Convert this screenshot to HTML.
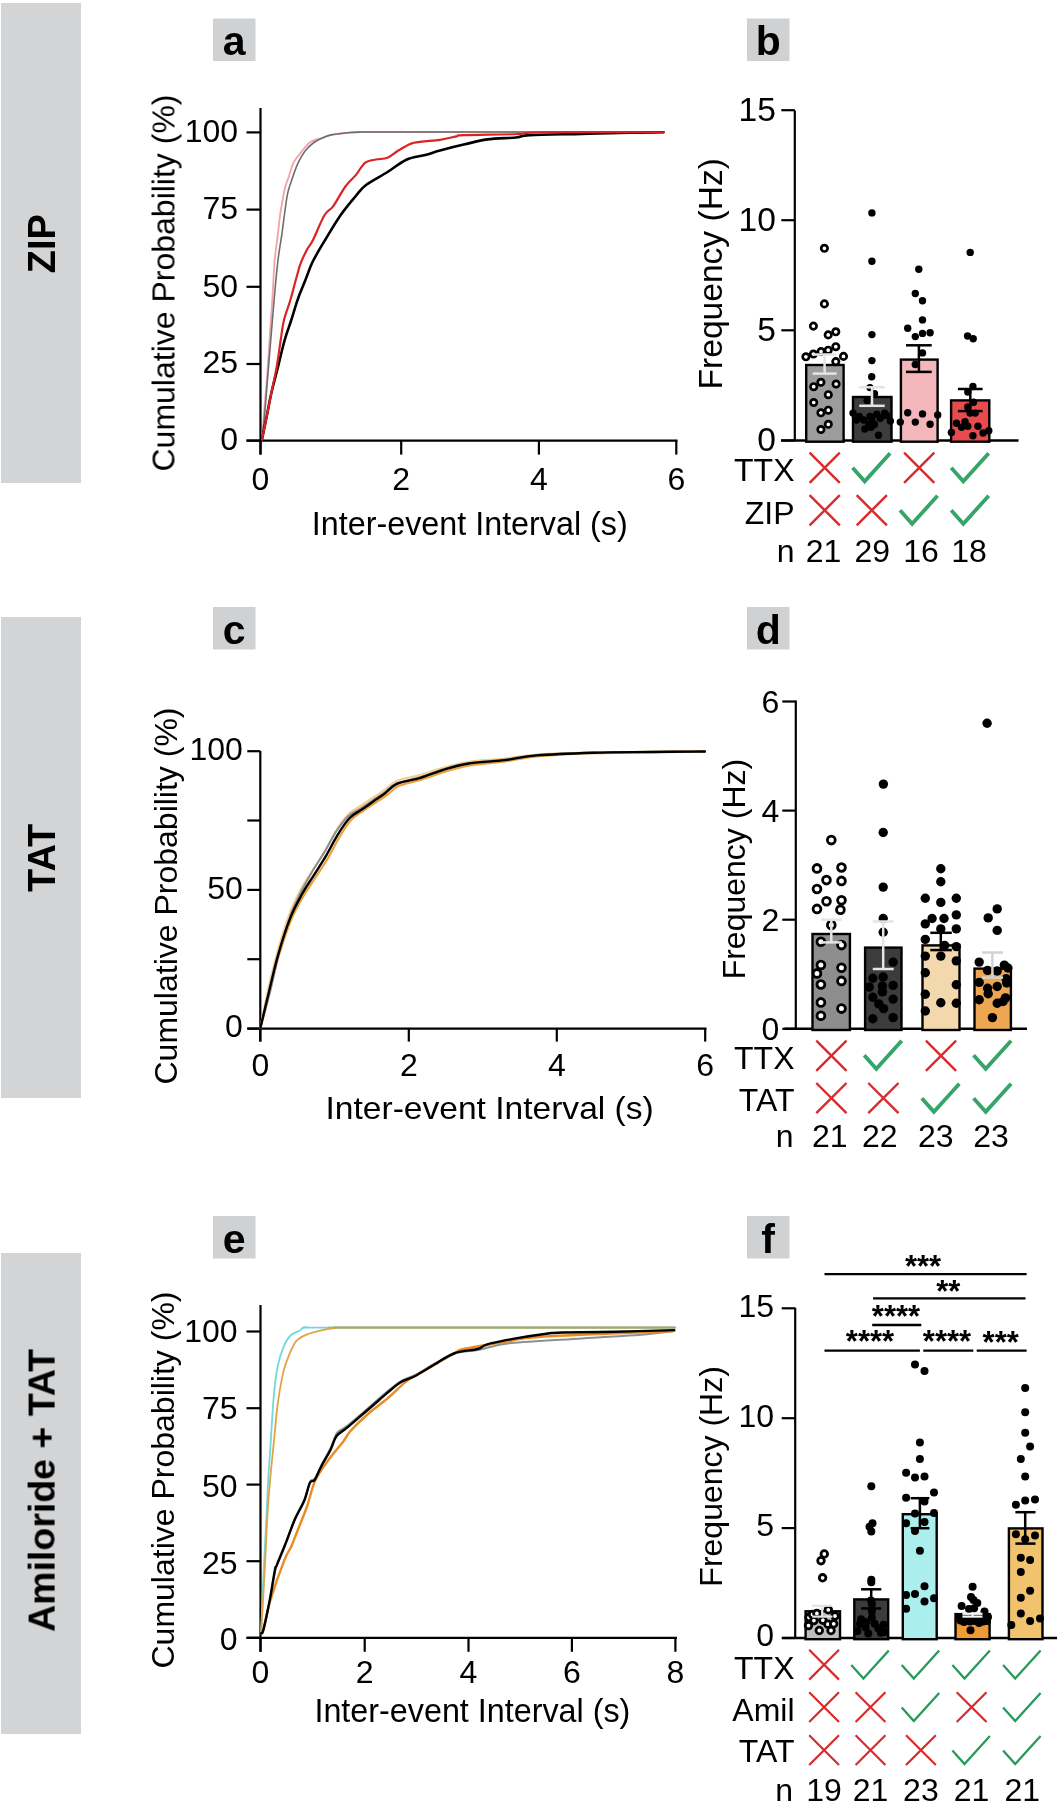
<!DOCTYPE html>
<html><head><meta charset="utf-8"><style>
html,body{margin:0;padding:0;background:#fff;}
svg{display:block;will-change:transform;}
text{font-family:"Liberation Sans", sans-serif;}
</style></head><body>
<svg width="1057" height="1801" viewBox="0 0 1057 1801">
<rect x="1.0" y="3.0" width="80.0" height="480.0" fill="#d3d4d6"/>
<text transform="translate(54.6,243.6) rotate(-90)" font-size="38" font-weight="700" text-anchor="middle" fill="#000" >ZIP</text>
<rect x="1.0" y="617.0" width="80.0" height="481.0" fill="#d3d4d6"/>
<text transform="translate(54.6,857.8) rotate(-90)" font-size="38" font-weight="700" text-anchor="middle" fill="#000" >TAT</text>
<rect x="1.0" y="1253.0" width="80.0" height="481.0" fill="#d3d4d6"/>
<text transform="translate(54.6,1490.4) rotate(-90)" font-size="37.5" font-weight="700" text-anchor="middle" fill="#000" >Amiloride + TAT</text>
<rect x="213.0" y="18.5" width="42.5" height="42.5" fill="#d0d1d3"/>
<text x="234.2" y="55.0" font-size="41" font-weight="700" text-anchor="middle" fill="#000" >a</text>
<rect x="747.0" y="18.5" width="42.5" height="42.5" fill="#d0d1d3"/>
<text x="768.2" y="55.0" font-size="41" font-weight="700" text-anchor="middle" fill="#000" >b</text>
<rect x="213.0" y="607.0" width="42.5" height="42.5" fill="#d0d1d3"/>
<text x="234.2" y="643.5" font-size="41" font-weight="700" text-anchor="middle" fill="#000" >c</text>
<rect x="747.0" y="607.0" width="42.5" height="42.5" fill="#d0d1d3"/>
<text x="768.2" y="643.5" font-size="41" font-weight="700" text-anchor="middle" fill="#000" >d</text>
<rect x="213.0" y="1216.0" width="42.5" height="42.5" fill="#d0d1d3"/>
<text x="234.2" y="1252.5" font-size="41" font-weight="700" text-anchor="middle" fill="#000" >e</text>
<rect x="747.0" y="1216.0" width="42.5" height="42.5" fill="#d0d1d3"/>
<text x="768.2" y="1252.5" font-size="41" font-weight="700" text-anchor="middle" fill="#000" >f</text>
<line x1="260.5" y1="108.0" x2="260.5" y2="454.6" stroke="#000" stroke-width="2.2" stroke-linecap="butt"/>
<line x1="246.5" y1="440.6" x2="677.5" y2="440.6" stroke="#000" stroke-width="2.2" stroke-linecap="butt"/>
<line x1="246.5" y1="132.4" x2="260.5" y2="132.4" stroke="#000" stroke-width="2.2" stroke-linecap="butt"/>
<text x="238.1" y="142.3" font-size="32" font-weight="400" text-anchor="end" fill="#000" >100</text>
<line x1="246.5" y1="209.6" x2="260.5" y2="209.6" stroke="#000" stroke-width="2.2" stroke-linecap="butt"/>
<text x="238.1" y="219.4" font-size="32" font-weight="400" text-anchor="end" fill="#000" >75</text>
<line x1="246.5" y1="286.8" x2="260.5" y2="286.8" stroke="#000" stroke-width="2.2" stroke-linecap="butt"/>
<text x="238.1" y="296.7" font-size="32" font-weight="400" text-anchor="end" fill="#000" >50</text>
<line x1="246.5" y1="364.0" x2="260.5" y2="364.0" stroke="#000" stroke-width="2.2" stroke-linecap="butt"/>
<text x="238.1" y="373.2" font-size="32" font-weight="400" text-anchor="end" fill="#000" >25</text>
<line x1="246.5" y1="440.6" x2="260.5" y2="440.6" stroke="#000" stroke-width="2.2" stroke-linecap="butt"/>
<text x="238.1" y="450.4" font-size="32" font-weight="400" text-anchor="end" fill="#000" >0</text>
<line x1="401.2" y1="440.6" x2="401.2" y2="454.6" stroke="#000" stroke-width="2.2" stroke-linecap="butt"/>
<text x="401.2" y="489.5" font-size="32" font-weight="400" text-anchor="middle" fill="#000" >2</text>
<line x1="538.9" y1="440.6" x2="538.9" y2="454.6" stroke="#000" stroke-width="2.2" stroke-linecap="butt"/>
<text x="538.9" y="489.5" font-size="32" font-weight="400" text-anchor="middle" fill="#000" >4</text>
<line x1="676.3" y1="440.6" x2="676.3" y2="454.6" stroke="#000" stroke-width="2.2" stroke-linecap="butt"/>
<text x="676.3" y="489.5" font-size="32" font-weight="400" text-anchor="middle" fill="#000" >6</text>
<line x1="260.5" y1="440.6" x2="260.5" y2="454.6" stroke="#000" stroke-width="2.2" stroke-linecap="butt"/>
<text x="260.5" y="489.5" font-size="32" font-weight="400" text-anchor="middle" fill="#000" >0</text>
<text transform="translate(174.5,283.0) rotate(-90)" font-size="32" font-weight="400" text-anchor="middle" fill="#000" >Cumulative Probability (%)</text>
<text x="469.8" y="534.5" font-size="32.3" font-weight="400" text-anchor="middle" fill="#000" >Inter-event Interval (s)</text>
<path d="M262.0,439.5 C262.2,437.1 262.8,430.5 263.2,425.0 C263.6,419.5 263.8,415.3 264.5,406.7 C265.2,398.1 266.4,385.5 267.3,373.3 C268.2,361.1 269.1,346.6 270.0,333.3 C270.9,320.0 271.9,305.5 272.7,293.3 C273.5,281.1 273.8,270.0 274.7,260.0 C275.6,250.0 277.1,240.8 278.0,233.3 C278.9,225.8 279.3,220.6 280.1,215.0 C280.9,209.4 281.7,204.8 282.6,200.0 C283.5,195.2 284.3,190.3 285.3,186.5 C286.3,182.7 287.4,180.9 288.7,177.0 C290.0,173.1 291.3,166.9 293.4,162.8 C295.4,158.7 298.2,155.9 301.0,152.4 C303.8,148.9 306.9,144.4 310.4,142.0 C313.9,139.6 318.3,139.2 321.8,138.0 C325.3,136.8 327.3,135.7 331.2,134.9 C335.1,134.1 340.7,133.5 345.4,133.0 C350.1,132.5 350.5,132.3 359.6,132.1 C368.7,131.9 349.4,132.0 400.0,132.0 C450.6,132.0 619.6,132.0 663.5,132.0" fill="none" stroke="#f3a3ab" stroke-width="1.8" stroke-linejoin="round" stroke-linecap="round" opacity="1"/>
<path d="M262.0,439.5 C262.3,437.1 263.1,430.5 263.6,425.0 C264.2,419.5 264.6,415.3 265.3,406.7 C266.0,398.1 267.0,385.5 268.0,373.3 C269.0,361.1 270.2,346.6 271.3,333.3 C272.4,320.0 273.6,305.5 274.7,293.3 C275.8,281.1 276.8,270.0 278.0,260.0 C279.2,250.0 280.9,240.8 282.0,233.3 C283.1,225.8 283.4,221.7 284.4,215.0 C285.3,208.3 286.4,199.3 287.7,193.1 C289.0,186.9 290.7,183.1 292.4,178.0 C294.1,172.9 296.1,167.2 298.1,162.8 C300.2,158.4 302.2,154.8 304.7,151.5 C307.2,148.2 310.3,145.2 313.2,143.0 C316.1,140.8 318.8,139.5 321.8,138.2 C324.8,136.8 327.3,135.8 331.2,134.9 C335.1,134.0 340.7,133.5 345.4,133.0 C350.1,132.5 350.5,132.3 359.6,132.1 C368.7,131.9 349.4,132.0 400.0,132.0 C450.6,132.0 619.6,132.0 663.5,132.0" fill="none" stroke="#6e6e6e" stroke-width="1.6" stroke-linejoin="round" stroke-linecap="round" opacity="1"/>
<path d="M262.0,439.5 C262.7,436.2 264.4,427.7 266.0,420.0 C267.6,412.3 269.3,402.2 271.3,393.3 C273.3,384.4 275.8,375.6 278.0,366.7 C280.2,357.8 282.5,347.8 284.7,340.0 C286.9,332.2 289.1,326.9 291.3,320.0 C293.5,313.1 295.6,305.3 298.0,298.7 C300.4,292.1 303.1,285.9 305.4,280.1 C307.6,274.4 309.4,269.0 311.5,264.2 C313.6,259.4 316.0,255.4 318.3,251.4 C320.6,247.4 321.4,246.1 325.1,240.0 C328.8,233.9 335.6,222.3 340.7,215.0 C345.8,207.7 351.6,201.0 355.8,196.0 C360.0,191.0 360.7,189.0 366.0,185.0 C371.3,181.0 380.8,176.2 387.5,172.0 C394.2,167.8 400.1,162.5 406.4,159.7 C412.7,156.9 419.7,156.5 425.3,155.0 C430.9,153.5 433.6,152.2 440.0,150.5 C446.4,148.8 455.8,146.4 463.7,144.6 C471.6,142.8 478.6,140.6 487.3,139.4 C496.0,138.2 508.6,138.2 515.7,137.5 C522.8,136.8 518.9,135.7 529.9,135.1 C540.9,134.5 565.3,134.3 581.9,133.9 C598.5,133.5 615.6,133.0 629.2,132.7 C642.8,132.4 657.8,132.4 663.5,132.3" fill="none" stroke="#000" stroke-width="2.6" stroke-linejoin="round" stroke-linecap="round" opacity="1"/>
<path d="M262.0,439.5 C262.7,436.2 264.4,427.7 266.0,420.0 C267.6,412.3 269.5,402.2 271.3,393.3 C273.1,384.4 275.1,375.6 276.7,366.7 C278.3,357.8 279.5,347.8 280.7,340.0 C281.9,332.2 282.4,326.4 284.0,320.0 C285.6,313.6 288.3,306.9 290.0,301.3 C291.7,295.8 292.7,291.6 294.0,286.7 C295.3,281.8 296.9,276.0 298.0,272.0 C299.1,268.0 299.4,266.4 300.9,262.7 C302.4,259.0 304.9,253.6 306.9,249.8 C308.9,246.0 310.1,245.8 313.0,240.0 C315.9,234.2 321.2,220.6 324.6,215.0 C328.0,209.4 329.6,211.2 333.1,206.4 C336.6,201.7 341.6,191.7 345.4,186.5 C349.2,181.3 352.5,179.0 355.8,175.1 C359.1,171.2 361.6,165.4 365.0,162.8 C368.4,160.2 372.2,160.3 376.0,159.5 C379.8,158.7 383.7,159.3 387.5,157.8 C391.3,156.3 394.4,152.8 398.8,150.3 C403.2,147.8 407.0,144.4 413.9,142.7 C420.8,140.9 432.9,140.9 440.0,139.8 C447.1,138.7 452.7,137.1 456.6,136.3 C460.6,135.5 453.5,135.5 463.7,135.1 C473.9,134.7 505.0,134.5 518.0,134.0 C531.0,133.5 517.5,132.6 541.7,132.3 C566.0,132.0 643.2,132.3 663.5,132.3" fill="none" stroke="#dc2323" stroke-width="2.2" stroke-linejoin="round" stroke-linecap="round" opacity="1"/>
<line x1="260.3" y1="751.0" x2="260.3" y2="1041.6" stroke="#000" stroke-width="2.2" stroke-linecap="butt"/>
<line x1="247.3" y1="1028.6" x2="706.5" y2="1028.6" stroke="#000" stroke-width="2.2" stroke-linecap="butt"/>
<line x1="247.3" y1="751.2" x2="260.3" y2="751.2" stroke="#000" stroke-width="2.2" stroke-linecap="butt"/>
<text x="242.9" y="760.0" font-size="32" font-weight="400" text-anchor="end" fill="#000" >100</text>
<line x1="247.3" y1="820.5" x2="260.3" y2="820.5" stroke="#000" stroke-width="2.2" stroke-linecap="butt"/>
<line x1="247.3" y1="889.9" x2="260.3" y2="889.9" stroke="#000" stroke-width="2.2" stroke-linecap="butt"/>
<text x="242.9" y="898.7" font-size="32" font-weight="400" text-anchor="end" fill="#000" >50</text>
<line x1="247.3" y1="959.2" x2="260.3" y2="959.2" stroke="#000" stroke-width="2.2" stroke-linecap="butt"/>
<line x1="247.3" y1="1028.6" x2="260.3" y2="1028.6" stroke="#000" stroke-width="2.2" stroke-linecap="butt"/>
<text x="242.9" y="1037.4" font-size="32" font-weight="400" text-anchor="end" fill="#000" >0</text>
<line x1="408.8" y1="1028.6" x2="408.8" y2="1041.6" stroke="#000" stroke-width="2.2" stroke-linecap="butt"/>
<text x="408.8" y="1075.5" font-size="32" font-weight="400" text-anchor="middle" fill="#000" >2</text>
<line x1="556.8" y1="1028.6" x2="556.8" y2="1041.6" stroke="#000" stroke-width="2.2" stroke-linecap="butt"/>
<text x="556.8" y="1075.5" font-size="32" font-weight="400" text-anchor="middle" fill="#000" >4</text>
<line x1="705.2" y1="1028.6" x2="705.2" y2="1041.6" stroke="#000" stroke-width="2.2" stroke-linecap="butt"/>
<text x="705.2" y="1075.5" font-size="32" font-weight="400" text-anchor="middle" fill="#000" >6</text>
<line x1="260.3" y1="1028.6" x2="260.3" y2="1041.6" stroke="#000" stroke-width="2.2" stroke-linecap="butt"/>
<text x="260.3" y="1075.5" font-size="32" font-weight="400" text-anchor="middle" fill="#000" >0</text>
<text transform="translate(176.5,896.0) rotate(-90)" font-size="32" font-weight="400" text-anchor="middle" fill="#000" >Cumulative Probability (%)</text>
<text x="0.0" y="0.0" font-size="32" font-weight="400" text-anchor="middle" fill="#000" transform="translate(489.6,1119.3) scale(1.049,1)">Inter-event Interval (s)</text>
<path d="M260.5,1027.5 C261.8,1020.9 265.6,1000.9 268.5,988.0 C271.4,975.1 274.5,962.3 278.0,950.0 C281.5,937.7 285.7,924.2 289.5,914.0 C293.3,903.8 297.1,896.3 301.0,889.0 C304.9,881.7 309.0,876.3 313.0,870.0 C317.0,863.7 321.1,857.7 325.0,851.0 C328.9,844.3 332.6,836.2 336.5,830.0 C340.4,823.8 344.5,818.0 348.5,814.0 C352.5,810.0 356.5,808.7 360.5,806.0 C364.5,803.3 368.5,800.7 372.5,798.0 C376.5,795.3 380.5,792.8 384.5,790.0 C388.5,787.2 390.6,783.5 396.5,781.0 C402.4,778.5 412.1,777.2 420.0,775.0 C427.9,772.8 436.0,769.7 444.0,767.5 C452.0,765.3 457.8,763.5 468.0,762.0 C478.2,760.5 493.5,759.8 505.0,758.5 C516.5,757.2 522.0,755.5 536.8,754.5 C551.5,753.5 565.5,753.0 593.5,752.5 C621.5,752.0 686.2,751.5 704.8,751.3" fill="none" stroke="#f3cf93" stroke-width="2.2" stroke-linejoin="round" stroke-linecap="round" opacity="1"/>
<path d="M260.5,1027.5 C262.1,1021.2 266.8,1002.3 270.0,990.0 C273.2,977.7 275.9,965.3 279.5,953.5 C283.1,941.7 287.5,928.6 291.5,919.0 C295.5,909.4 299.5,902.9 303.5,896.0 C307.5,889.1 311.5,883.7 315.5,877.5 C319.5,871.3 323.5,865.8 327.5,859.0 C331.5,852.2 335.6,843.5 339.5,837.0 C343.4,830.5 347.1,824.3 351.0,820.0 C354.9,815.7 359.0,813.8 363.0,811.0 C367.0,808.2 371.0,805.7 375.0,803.0 C379.0,800.3 383.1,797.8 387.0,795.0 C390.9,792.2 392.7,788.6 398.5,786.0 C404.3,783.4 414.1,781.9 422.0,779.5 C429.9,777.1 438.0,773.8 446.0,771.5 C454.0,769.2 460.2,767.2 470.0,765.5 C479.8,763.8 493.9,763.0 505.0,761.5 C516.1,760.0 522.0,757.9 536.8,756.5 C551.5,755.1 565.5,754.0 593.5,753.2 C621.5,752.4 686.2,751.8 704.8,751.5" fill="none" stroke="#eea23c" stroke-width="2.2" stroke-linejoin="round" stroke-linecap="round" opacity="1"/>
<path d="M260.5,1027.5 C262.1,1021.8 266.8,1005.1 269.8,993.0 C272.8,980.9 275.2,967.5 278.5,955.0 C281.8,942.5 285.8,928.5 289.5,918.0 C293.2,907.5 297.2,899.8 301.0,892.0 C304.8,884.2 308.6,877.7 312.5,871.0 C316.4,864.3 320.5,858.7 324.5,852.0 C328.5,845.3 332.5,837.0 336.5,831.0 C340.5,825.0 344.5,819.8 348.5,816.0 C352.5,812.2 356.5,811.1 360.5,808.5 C364.5,805.9 368.5,803.2 372.5,800.5 C376.5,797.8 380.5,795.3 384.5,792.5 C388.5,789.7 390.5,786.1 396.5,783.5 C402.5,780.9 412.7,779.4 420.6,777.0 C428.6,774.6 436.3,771.3 444.2,769.0 C452.1,766.7 457.8,764.6 467.9,763.0 C478.0,761.4 493.5,760.8 505.0,759.5 C516.5,758.2 522.0,756.2 536.8,755.0 C551.5,753.8 565.5,753.1 593.5,752.5 C621.5,751.9 686.2,751.7 704.8,751.5" fill="none" stroke="#8e8e8e" stroke-width="2.0" stroke-linejoin="round" stroke-linecap="round" opacity="1"/>
<path d="M260.5,1027.5 C261.9,1021.4 266.2,1003.1 269.2,990.7 C272.2,978.3 275.1,965.1 278.7,952.9 C282.2,940.7 286.6,927.3 290.5,917.4 C294.4,907.5 298.4,900.8 302.3,893.7 C306.2,886.6 310.2,881.1 314.1,874.8 C318.1,868.5 322.1,862.6 326.0,855.9 C329.9,849.2 333.9,840.9 337.8,834.6 C341.7,828.3 345.7,822.1 349.6,818.0 C353.5,813.9 357.4,812.5 361.4,809.8 C365.3,807.0 369.4,804.3 373.3,801.5 C377.2,798.7 381.2,796.2 385.1,793.2 C389.0,790.2 391.0,786.4 396.9,783.8 C402.8,781.2 412.7,780.2 420.6,777.8 C428.5,775.4 436.3,772.0 444.2,769.6 C452.1,767.2 457.8,765.3 467.9,763.7 C478.0,762.1 493.5,761.5 505.0,760.1 C516.5,758.7 522.0,756.6 536.8,755.4 C551.5,754.2 574.6,753.3 593.5,752.7 C612.4,752.1 631.5,752.2 650.0,752.0 C668.5,751.8 695.7,751.6 704.8,751.5" fill="none" stroke="#000" stroke-width="2.4" stroke-linejoin="round" stroke-linecap="round" opacity="1"/>
<line x1="260.5" y1="1305.0" x2="260.5" y2="1651.8" stroke="#000" stroke-width="2.2" stroke-linecap="butt"/>
<line x1="246.5" y1="1637.8" x2="677.0" y2="1637.8" stroke="#000" stroke-width="2.2" stroke-linecap="butt"/>
<line x1="246.5" y1="1331.5" x2="260.5" y2="1331.5" stroke="#000" stroke-width="2.2" stroke-linecap="butt"/>
<text x="237.6" y="1341.6" font-size="32" font-weight="400" text-anchor="end" fill="#000" >100</text>
<line x1="246.5" y1="1408.2" x2="260.5" y2="1408.2" stroke="#000" stroke-width="2.2" stroke-linecap="butt"/>
<text x="237.6" y="1418.8" font-size="32" font-weight="400" text-anchor="end" fill="#000" >75</text>
<line x1="246.5" y1="1484.6" x2="260.5" y2="1484.6" stroke="#000" stroke-width="2.2" stroke-linecap="butt"/>
<text x="237.6" y="1496.6" font-size="32" font-weight="400" text-anchor="end" fill="#000" >50</text>
<line x1="246.5" y1="1561.2" x2="260.5" y2="1561.2" stroke="#000" stroke-width="2.2" stroke-linecap="butt"/>
<text x="237.6" y="1573.8" font-size="32" font-weight="400" text-anchor="end" fill="#000" >25</text>
<line x1="246.5" y1="1637.8" x2="260.5" y2="1637.8" stroke="#000" stroke-width="2.2" stroke-linecap="butt"/>
<text x="237.6" y="1650.4" font-size="32" font-weight="400" text-anchor="end" fill="#000" >0</text>
<line x1="364.7" y1="1637.8" x2="364.7" y2="1651.8" stroke="#000" stroke-width="2.2" stroke-linecap="butt"/>
<text x="364.7" y="1682.5" font-size="32" font-weight="400" text-anchor="middle" fill="#000" >2</text>
<line x1="468.5" y1="1637.8" x2="468.5" y2="1651.8" stroke="#000" stroke-width="2.2" stroke-linecap="butt"/>
<text x="468.5" y="1682.5" font-size="32" font-weight="400" text-anchor="middle" fill="#000" >4</text>
<line x1="571.9" y1="1637.8" x2="571.9" y2="1651.8" stroke="#000" stroke-width="2.2" stroke-linecap="butt"/>
<text x="571.9" y="1682.5" font-size="32" font-weight="400" text-anchor="middle" fill="#000" >6</text>
<line x1="675.4" y1="1637.8" x2="675.4" y2="1651.8" stroke="#000" stroke-width="2.2" stroke-linecap="butt"/>
<text x="675.4" y="1682.5" font-size="32" font-weight="400" text-anchor="middle" fill="#000" >8</text>
<line x1="260.5" y1="1637.8" x2="260.5" y2="1651.8" stroke="#000" stroke-width="2.2" stroke-linecap="butt"/>
<text x="260.5" y="1682.5" font-size="32" font-weight="400" text-anchor="middle" fill="#000" >0</text>
<text transform="translate(174.0,1480.0) rotate(-90)" font-size="32" font-weight="400" text-anchor="middle" fill="#000" >Cumulative Probability (%)</text>
<text x="472.4" y="1721.6" font-size="32.3" font-weight="400" text-anchor="middle" fill="#000" >Inter-event Interval (s)</text>
<path d="M261.1,1633.3 C261.5,1623.5 262.6,1593.8 263.5,1574.6 C264.4,1555.3 265.6,1533.6 266.4,1517.8 C267.2,1502.0 267.6,1491.1 268.2,1480.0 C268.8,1468.9 269.2,1465.6 270.1,1451.4 C271.1,1437.2 272.6,1408.8 273.9,1394.6 C275.2,1380.4 276.1,1374.1 277.7,1366.2 C279.3,1358.3 281.2,1352.5 283.4,1347.3 C285.6,1342.1 288.2,1337.8 291.0,1335.0 C293.8,1332.2 297.9,1331.5 300.4,1330.3 C302.9,1329.1 299.5,1328.0 306.1,1327.6 C312.7,1327.1 278.5,1327.6 340.0,1327.6 C401.5,1327.6 619.4,1327.6 675.3,1327.6" fill="none" stroke="#73d8dc" stroke-width="1.8" stroke-linejoin="round" stroke-linecap="round" opacity="1"/>
<path d="M261.1,1633.3 C261.7,1623.5 263.5,1593.8 264.5,1574.6 C265.5,1555.3 266.4,1533.6 267.3,1517.8 C268.2,1502.0 269.0,1492.7 270.1,1480.0 C271.2,1467.3 272.6,1454.6 273.9,1441.9 C275.2,1429.2 276.1,1415.8 277.7,1404.1 C279.3,1392.4 281.5,1380.1 283.4,1371.9 C285.3,1363.7 286.9,1360.1 289.1,1354.9 C291.3,1349.7 293.5,1344.2 296.6,1340.7 C299.8,1337.2 303.9,1335.8 308.0,1334.1 C312.1,1332.4 316.8,1331.3 321.2,1330.3 C325.6,1329.3 328.0,1328.5 334.5,1328.0 C341.0,1327.5 303.2,1327.7 360.0,1327.6 C416.8,1327.5 622.8,1327.6 675.3,1327.6" fill="none" stroke="#e0a448" stroke-width="1.8" stroke-linejoin="round" stroke-linecap="round" opacity="1"/>
<line x1="333.0" y1="1327.6" x2="675.3" y2="1327.6" stroke="#93ad7a" stroke-width="2.0" stroke-linecap="butt"/>
<path d="M261.1,1633.3 C261.5,1632.7 262.0,1635.2 263.5,1629.5 C265.0,1623.8 268.1,1608.9 270.1,1599.0 C272.1,1589.1 272.9,1579.3 275.5,1570.0 C278.1,1560.7 282.5,1551.7 285.8,1543.0 C289.1,1534.3 292.1,1525.2 295.2,1518.0 C298.3,1510.8 302.1,1505.6 304.6,1499.5 C307.1,1493.4 308.6,1485.0 310.3,1481.5 C312.0,1478.0 313.1,1481.2 315.0,1478.5 C316.9,1475.8 318.9,1470.2 321.6,1465.0 C324.3,1459.8 328.6,1452.3 331.1,1447.0 C333.6,1441.7 334.3,1436.4 336.8,1433.0 C339.3,1429.6 342.4,1429.4 346.2,1426.5 C350.0,1423.6 355.1,1419.2 359.5,1415.5 C363.9,1411.8 368.0,1408.1 372.7,1404.0 C377.4,1399.9 383.2,1394.8 387.9,1391.0 C392.6,1387.2 396.4,1383.8 401.1,1381.0 C405.8,1378.2 410.6,1377.4 416.2,1374.5 C421.8,1371.6 428.5,1367.0 435.0,1363.5 C441.5,1360.0 447.9,1355.8 455.0,1353.5 C462.1,1351.2 468.5,1351.7 477.8,1350.0 C487.1,1348.3 493.6,1345.0 511.0,1343.1 C528.4,1341.2 560.3,1339.8 582.0,1338.4 C603.7,1337.0 625.6,1336.0 641.0,1334.8 C656.4,1333.6 668.7,1331.6 674.2,1331.0" fill="none" stroke="#909090" stroke-width="2.0" stroke-linejoin="round" stroke-linecap="round" opacity="1"/>
<path d="M261.1,1633.3 C261.5,1632.7 262.0,1634.9 263.5,1629.5 C265.0,1624.1 266.6,1612.6 270.1,1601.1 C273.6,1589.6 280.7,1569.6 284.3,1560.4 C287.9,1551.2 289.4,1550.7 291.5,1546.0 C293.6,1541.3 294.4,1538.6 297.0,1532.0 C299.6,1525.4 303.9,1515.2 307.0,1506.5 C310.1,1497.8 311.6,1488.2 315.5,1480.0 C319.4,1471.8 326.1,1463.3 330.7,1457.0 C335.3,1450.7 339.7,1446.3 343.0,1442.0 C346.3,1437.7 346.2,1435.8 350.5,1431.0 C354.8,1426.2 362.3,1418.9 368.5,1413.5 C374.7,1408.1 381.2,1403.8 387.5,1398.4 C393.8,1393.1 400.1,1386.1 406.4,1381.4 C412.7,1376.7 417.2,1374.7 425.3,1370.0 C433.4,1365.3 448.6,1356.5 455.0,1353.0 C461.4,1349.5 454.4,1351.0 463.7,1349.0 C473.0,1347.0 499.2,1342.7 511.0,1340.7 C522.8,1338.7 518.8,1338.4 534.6,1337.2 C550.4,1336.0 582.3,1334.7 605.6,1333.7 C628.9,1332.7 662.8,1331.5 674.2,1331.0" fill="none" stroke="#ea8a22" stroke-width="2.4" stroke-linejoin="round" stroke-linecap="round" opacity="1"/>
<path d="M261.1,1633.3 C261.5,1632.7 262.0,1635.3 263.5,1629.5 C265.0,1623.7 268.2,1608.2 270.1,1598.3 C272.0,1588.4 273.8,1575.4 274.9,1569.9 C276.0,1564.4 275.1,1569.4 276.8,1565.1 C278.5,1560.8 282.3,1551.9 285.3,1544.3 C288.3,1536.7 291.6,1527.0 294.7,1519.7 C297.8,1512.5 301.7,1507.0 304.2,1500.8 C306.7,1494.6 308.2,1486.3 309.9,1482.8 C311.6,1479.3 312.7,1482.7 314.6,1480.0 C316.5,1477.3 318.5,1471.6 321.2,1466.5 C323.9,1461.4 328.2,1454.5 330.7,1449.5 C333.2,1444.5 333.9,1439.7 336.4,1436.2 C338.9,1432.7 342.0,1431.9 345.8,1428.7 C349.6,1425.5 354.7,1421.1 359.1,1417.3 C363.5,1413.5 367.6,1410.1 372.3,1406.0 C377.0,1401.9 382.8,1396.7 387.5,1392.7 C392.2,1388.8 396.0,1385.1 400.7,1382.3 C405.4,1379.5 410.1,1378.7 415.8,1375.7 C421.5,1372.7 428.3,1368.1 434.8,1364.3 C441.3,1360.5 447.8,1355.5 455.0,1353.0 C462.2,1350.5 472.4,1350.5 477.8,1349.0 C483.2,1347.5 481.0,1346.1 487.3,1344.3 C493.6,1342.5 505.9,1340.2 515.7,1338.4 C525.6,1336.6 538.5,1334.7 546.4,1333.7 C554.3,1332.7 551.6,1332.8 563.0,1332.5 C574.4,1332.2 596.5,1332.2 615.0,1331.8 C633.5,1331.4 664.3,1330.4 674.2,1330.1" fill="none" stroke="#000" stroke-width="2.4" stroke-linejoin="round" stroke-linecap="round" opacity="1"/>
<line x1="794.8" y1="110.5" x2="794.8" y2="440.5" stroke="#000" stroke-width="2.2" stroke-linecap="butt"/>
<line x1="781.0" y1="440.5" x2="1018.5" y2="440.5" stroke="#000" stroke-width="2.4" stroke-linecap="butt"/>
<line x1="781.3" y1="110.2" x2="794.8" y2="110.2" stroke="#000" stroke-width="2.2" stroke-linecap="butt"/>
<text x="775.9" y="120.6" font-size="33.6" font-weight="400" text-anchor="end" fill="#000" >15</text>
<line x1="781.3" y1="220.2" x2="794.8" y2="220.2" stroke="#000" stroke-width="2.2" stroke-linecap="butt"/>
<text x="775.9" y="230.6" font-size="33.6" font-weight="400" text-anchor="end" fill="#000" >10</text>
<line x1="781.3" y1="330.3" x2="794.8" y2="330.3" stroke="#000" stroke-width="2.2" stroke-linecap="butt"/>
<text x="775.9" y="340.7" font-size="33.6" font-weight="400" text-anchor="end" fill="#000" >5</text>
<line x1="781.3" y1="440.5" x2="794.8" y2="440.5" stroke="#000" stroke-width="2.2" stroke-linecap="butt"/>
<text x="775.9" y="450.9" font-size="33.6" font-weight="400" text-anchor="end" fill="#000" >0</text>
<text transform="translate(721.8,273.8) rotate(-90)" font-size="33.6" font-weight="400" text-anchor="middle" fill="#000" >Frequency (Hz)</text>
<rect x="806.2" y="365.0" width="37.4" height="76.7" fill="#9c9c9c" stroke="#000" stroke-width="2.4"/>
<rect x="853.0" y="397.0" width="38.5" height="44.7" fill="#3c3c3c" stroke="#000" stroke-width="2.4"/>
<rect x="900.9" y="359.6" width="36.7" height="82.1" fill="#f2b6bb" stroke="#000" stroke-width="2.4"/>
<rect x="951.1" y="400.4" width="38.2" height="41.3" fill="#e84a4e" stroke="#000" stroke-width="2.4"/>
<circle cx="824.4" cy="248.3" r="3.2" fill="#fff" stroke="#000" stroke-width="2.7"/>
<circle cx="824.4" cy="303.9" r="3.2" fill="#fff" stroke="#000" stroke-width="2.7"/>
<circle cx="813.4" cy="326.1" r="3.2" fill="#fff" stroke="#000" stroke-width="2.7"/>
<circle cx="828.2" cy="334.9" r="3.2" fill="#fff" stroke="#000" stroke-width="2.7"/>
<circle cx="835.8" cy="331.8" r="3.2" fill="#fff" stroke="#000" stroke-width="2.7"/>
<circle cx="835.8" cy="346.7" r="3.2" fill="#fff" stroke="#000" stroke-width="2.7"/>
<circle cx="828.2" cy="350.2" r="3.2" fill="#fff" stroke="#000" stroke-width="2.7"/>
<circle cx="821.0" cy="351.6" r="3.2" fill="#fff" stroke="#000" stroke-width="2.7"/>
<circle cx="813.4" cy="354.0" r="3.2" fill="#fff" stroke="#000" stroke-width="2.7"/>
<circle cx="805.9" cy="356.8" r="3.2" fill="#fff" stroke="#000" stroke-width="2.7"/>
<circle cx="843.5" cy="356.4" r="3.2" fill="#fff" stroke="#000" stroke-width="2.7"/>
<circle cx="835.8" cy="361.6" r="3.2" fill="#fff" stroke="#000" stroke-width="2.7"/>
<circle cx="820.9" cy="382.3" r="3.2" fill="#fff" stroke="#000" stroke-width="2.7"/>
<circle cx="813.7" cy="386.7" r="3.2" fill="#fff" stroke="#000" stroke-width="2.7"/>
<circle cx="836.1" cy="384.0" r="3.2" fill="#fff" stroke="#000" stroke-width="2.7"/>
<circle cx="828.3" cy="394.7" r="3.2" fill="#fff" stroke="#000" stroke-width="2.7"/>
<circle cx="813.7" cy="402.5" r="3.2" fill="#fff" stroke="#000" stroke-width="2.7"/>
<circle cx="828.3" cy="410.2" r="3.2" fill="#fff" stroke="#000" stroke-width="2.7"/>
<circle cx="820.9" cy="412.8" r="3.2" fill="#fff" stroke="#000" stroke-width="2.7"/>
<circle cx="828.3" cy="424.3" r="3.2" fill="#fff" stroke="#000" stroke-width="2.7"/>
<circle cx="820.9" cy="429.5" r="3.2" fill="#fff" stroke="#000" stroke-width="2.7"/>
<circle cx="871.9" cy="212.9" r="3.7" fill="#000"/>
<circle cx="871.9" cy="261.3" r="3.7" fill="#000"/>
<circle cx="871.9" cy="334.6" r="3.7" fill="#000"/>
<circle cx="871.9" cy="360.6" r="3.7" fill="#000"/>
<circle cx="871.7" cy="376.8" r="3.7" fill="#000"/>
<circle cx="870.0" cy="387.6" r="3.7" fill="#000"/>
<circle cx="874.5" cy="393.8" r="3.7" fill="#000"/>
<circle cx="867.1" cy="400.6" r="3.7" fill="#000"/>
<circle cx="853.0" cy="413.1" r="3.7" fill="#000"/>
<circle cx="859.2" cy="416.5" r="3.7" fill="#000"/>
<circle cx="870.0" cy="416.5" r="3.7" fill="#000"/>
<circle cx="876.8" cy="414.3" r="3.7" fill="#000"/>
<circle cx="884.7" cy="413.1" r="3.7" fill="#000"/>
<circle cx="856.4" cy="420.0" r="3.7" fill="#000"/>
<circle cx="863.7" cy="420.0" r="3.7" fill="#000"/>
<circle cx="871.7" cy="419.4" r="3.7" fill="#000"/>
<circle cx="880.2" cy="418.2" r="3.7" fill="#000"/>
<circle cx="890.4" cy="421.1" r="3.7" fill="#000"/>
<circle cx="868.8" cy="424.5" r="3.7" fill="#000"/>
<circle cx="874.5" cy="424.5" r="3.7" fill="#000"/>
<circle cx="864.9" cy="429.0" r="3.7" fill="#000"/>
<circle cx="871.1" cy="427.3" r="3.7" fill="#000"/>
<circle cx="878.5" cy="435.3" r="3.7" fill="#000"/>
<circle cx="886.4" cy="415.4" r="3.7" fill="#000"/>
<circle cx="918.8" cy="269.2" r="3.7" fill="#000"/>
<circle cx="915.3" cy="293.5" r="3.7" fill="#000"/>
<circle cx="922.5" cy="300.7" r="3.7" fill="#000"/>
<circle cx="922.5" cy="319.9" r="3.7" fill="#000"/>
<circle cx="907.7" cy="328.3" r="3.7" fill="#000"/>
<circle cx="915.3" cy="336.6" r="3.7" fill="#000"/>
<circle cx="922.5" cy="333.4" r="3.7" fill="#000"/>
<circle cx="930.1" cy="332.7" r="3.7" fill="#000"/>
<circle cx="922.5" cy="352.9" r="3.7" fill="#000"/>
<circle cx="915.3" cy="364.5" r="3.7" fill="#000"/>
<circle cx="907.7" cy="412.8" r="3.7" fill="#000"/>
<circle cx="922.5" cy="413.9" r="3.7" fill="#000"/>
<circle cx="937.7" cy="415.0" r="3.7" fill="#000"/>
<circle cx="900.3" cy="422.1" r="3.7" fill="#000"/>
<circle cx="915.3" cy="422.1" r="3.7" fill="#000"/>
<circle cx="930.1" cy="424.3" r="3.7" fill="#000"/>
<circle cx="970.2" cy="252.4" r="3.7" fill="#000"/>
<circle cx="967.6" cy="336.0" r="3.7" fill="#000"/>
<circle cx="973.2" cy="338.8" r="3.7" fill="#000"/>
<circle cx="972.9" cy="386.5" r="3.7" fill="#000"/>
<circle cx="967.8" cy="392.1" r="3.7" fill="#000"/>
<circle cx="973.5" cy="402.3" r="3.7" fill="#000"/>
<circle cx="967.8" cy="406.9" r="3.7" fill="#000"/>
<circle cx="970.1" cy="413.1" r="3.7" fill="#000"/>
<circle cx="975.2" cy="413.1" r="3.7" fill="#000"/>
<circle cx="956.5" cy="423.3" r="3.7" fill="#000"/>
<circle cx="965.0" cy="421.6" r="3.7" fill="#000"/>
<circle cx="961.6" cy="427.3" r="3.7" fill="#000"/>
<circle cx="967.8" cy="426.2" r="3.7" fill="#000"/>
<circle cx="978.0" cy="426.2" r="3.7" fill="#000"/>
<circle cx="951.4" cy="432.4" r="3.7" fill="#000"/>
<circle cx="983.1" cy="433.0" r="3.7" fill="#000"/>
<circle cx="988.8" cy="430.7" r="3.7" fill="#000"/>
<circle cx="972.9" cy="435.8" r="3.7" fill="#000"/>
<line x1="824.6" y1="354.5" x2="824.6" y2="373.6" stroke="#e4e4e4" stroke-width="2.5" stroke-linecap="butt"/>
<line x1="812.6" y1="354.5" x2="836.6" y2="354.5" stroke="#e4e4e4" stroke-width="2.5" stroke-linecap="butt"/>
<line x1="812.6" y1="373.6" x2="836.6" y2="373.6" stroke="#e4e4e4" stroke-width="2.5" stroke-linecap="butt"/>
<line x1="872.0" y1="387.3" x2="872.0" y2="405.8" stroke="#e4e4e4" stroke-width="2.5" stroke-linecap="butt"/>
<line x1="859.2" y1="387.3" x2="884.7" y2="387.3" stroke="#e4e4e4" stroke-width="2.5" stroke-linecap="butt"/>
<line x1="859.2" y1="405.8" x2="884.7" y2="405.8" stroke="#e4e4e4" stroke-width="2.5" stroke-linecap="butt"/>
<line x1="918.9" y1="345.3" x2="918.9" y2="371.9" stroke="#000" stroke-width="2.5" stroke-linecap="butt"/>
<line x1="906.0" y1="345.3" x2="931.7" y2="345.3" stroke="#000" stroke-width="2.5" stroke-linecap="butt"/>
<line x1="906.0" y1="371.9" x2="931.7" y2="371.9" stroke="#000" stroke-width="2.5" stroke-linecap="butt"/>
<line x1="970.3" y1="389.0" x2="970.3" y2="411.1" stroke="#000" stroke-width="2.5" stroke-linecap="butt"/>
<line x1="957.9" y1="389.0" x2="982.6" y2="389.0" stroke="#000" stroke-width="2.5" stroke-linecap="butt"/>
<line x1="957.9" y1="411.1" x2="982.6" y2="411.1" stroke="#000" stroke-width="2.5" stroke-linecap="butt"/>
<text x="794.5" y="480.6" font-size="32" font-weight="400" text-anchor="end" fill="#000" >TTX</text>
<text x="794.5" y="523.7" font-size="32" font-weight="400" text-anchor="end" fill="#000" >ZIP</text>
<text x="794.5" y="562.0" font-size="32" font-weight="400" text-anchor="end" fill="#000" >n</text>
<path d="M809.6,452.6 L839.8,482.8 M839.8,452.6 L809.6,482.8" stroke="#d92a2c" stroke-width="2.4" fill="none"/>
<path d="M852.6,467.8 L864.7,481.3 L890.1,453.3" stroke="#36a569" stroke-width="3.8" fill="none" stroke-linejoin="miter"/>
<path d="M904.1,452.6 L934.3,482.8 M934.3,452.6 L904.1,482.8" stroke="#d92a2c" stroke-width="2.4" fill="none"/>
<path d="M951.2,467.8 L963.3,481.3 L988.7,453.3" stroke="#36a569" stroke-width="3.8" fill="none" stroke-linejoin="miter"/>
<path d="M809.6,495.2 L839.8,525.4 M839.8,495.2 L809.6,525.4" stroke="#d92a2c" stroke-width="2.4" fill="none"/>
<path d="M856.7,495.2 L886.9,525.4 M886.9,495.2 L856.7,525.4" stroke="#d92a2c" stroke-width="2.4" fill="none"/>
<path d="M900.0,510.3 L912.1,523.8 L937.5,495.8" stroke="#36a569" stroke-width="3.8" fill="none" stroke-linejoin="miter"/>
<path d="M951.2,510.3 L963.3,523.8 L988.7,495.8" stroke="#36a569" stroke-width="3.8" fill="none" stroke-linejoin="miter"/>
<text x="823.5" y="562.0" font-size="32" font-weight="400" text-anchor="middle" fill="#000" >21</text>
<text x="872.3" y="562.0" font-size="32" font-weight="400" text-anchor="middle" fill="#000" >29</text>
<text x="921.0" y="562.0" font-size="32" font-weight="400" text-anchor="middle" fill="#000" >16</text>
<text x="969.0" y="562.0" font-size="32" font-weight="400" text-anchor="middle" fill="#000" >18</text>
<line x1="795.8" y1="700.6" x2="795.8" y2="1028.8" stroke="#000" stroke-width="2.2" stroke-linecap="butt"/>
<line x1="784.5" y1="1028.8" x2="1027.0" y2="1028.8" stroke="#000" stroke-width="2.4" stroke-linecap="butt"/>
<line x1="782.3" y1="701.5" x2="795.8" y2="701.5" stroke="#000" stroke-width="2.2" stroke-linecap="butt"/>
<text x="779.3" y="712.9" font-size="32" font-weight="400" text-anchor="end" fill="#000" >6</text>
<line x1="782.3" y1="810.6" x2="795.8" y2="810.6" stroke="#000" stroke-width="2.2" stroke-linecap="butt"/>
<text x="779.3" y="822.0" font-size="32" font-weight="400" text-anchor="end" fill="#000" >4</text>
<line x1="782.3" y1="919.7" x2="795.8" y2="919.7" stroke="#000" stroke-width="2.2" stroke-linecap="butt"/>
<text x="779.3" y="931.1" font-size="32" font-weight="400" text-anchor="end" fill="#000" >2</text>
<line x1="782.3" y1="1028.8" x2="795.8" y2="1028.8" stroke="#000" stroke-width="2.2" stroke-linecap="butt"/>
<text x="779.3" y="1040.2" font-size="32" font-weight="400" text-anchor="end" fill="#000" >0</text>
<text transform="translate(744.9,869.1) rotate(-90)" font-size="32" font-weight="400" text-anchor="middle" fill="#000" >Frequency (Hz)</text>
<rect x="812.5" y="934.0" width="37.4" height="96.0" fill="#8e8e8e" stroke="#000" stroke-width="2.4"/>
<rect x="865.1" y="947.6" width="36.4" height="82.4" fill="#3c3c3c" stroke="#000" stroke-width="2.4"/>
<rect x="922.5" y="945.4" width="37.0" height="84.6" fill="#f3d8ad" stroke="#000" stroke-width="2.4"/>
<rect x="974.5" y="968.6" width="36.4" height="61.4" fill="#eda652" stroke="#000" stroke-width="2.4"/>
<circle cx="831.3" cy="840.1" r="3.9" fill="#fff" stroke="#000" stroke-width="2.8"/>
<circle cx="817.0" cy="868.4" r="3.9" fill="#fff" stroke="#000" stroke-width="2.8"/>
<circle cx="841.5" cy="867.5" r="3.9" fill="#fff" stroke="#000" stroke-width="2.8"/>
<circle cx="826.5" cy="880.1" r="3.9" fill="#fff" stroke="#000" stroke-width="2.8"/>
<circle cx="841.5" cy="880.9" r="3.9" fill="#fff" stroke="#000" stroke-width="2.8"/>
<circle cx="817.0" cy="889.0" r="3.9" fill="#fff" stroke="#000" stroke-width="2.8"/>
<circle cx="826.5" cy="901.2" r="3.9" fill="#fff" stroke="#000" stroke-width="2.8"/>
<circle cx="841.5" cy="900.2" r="3.9" fill="#fff" stroke="#000" stroke-width="2.8"/>
<circle cx="817.0" cy="908.9" r="3.9" fill="#fff" stroke="#000" stroke-width="2.8"/>
<circle cx="840.4" cy="909.8" r="3.9" fill="#fff" stroke="#000" stroke-width="2.8"/>
<circle cx="831.3" cy="925.1" r="3.9" fill="#fff" stroke="#000" stroke-width="2.8"/>
<circle cx="820.9" cy="941.8" r="3.9" fill="#fff" stroke="#000" stroke-width="2.8"/>
<circle cx="841.5" cy="945.1" r="3.9" fill="#fff" stroke="#000" stroke-width="2.8"/>
<circle cx="820.9" cy="965.1" r="3.9" fill="#fff" stroke="#000" stroke-width="2.8"/>
<circle cx="841.5" cy="967.8" r="3.9" fill="#fff" stroke="#000" stroke-width="2.8"/>
<circle cx="817.0" cy="973.4" r="3.9" fill="#fff" stroke="#000" stroke-width="2.8"/>
<circle cx="820.9" cy="984.5" r="3.9" fill="#fff" stroke="#000" stroke-width="2.8"/>
<circle cx="841.5" cy="980.9" r="3.9" fill="#fff" stroke="#000" stroke-width="2.8"/>
<circle cx="820.9" cy="1002.4" r="3.9" fill="#fff" stroke="#000" stroke-width="2.8"/>
<circle cx="841.5" cy="1008.6" r="3.9" fill="#fff" stroke="#000" stroke-width="2.8"/>
<circle cx="820.9" cy="1015.8" r="3.9" fill="#fff" stroke="#000" stroke-width="2.8"/>
<circle cx="883.4" cy="784.1" r="4.7" fill="#000"/>
<circle cx="883.2" cy="832.5" r="4.7" fill="#000"/>
<circle cx="883.2" cy="887.1" r="4.7" fill="#000"/>
<circle cx="883.2" cy="918.5" r="4.7" fill="#000"/>
<circle cx="883.2" cy="932.2" r="4.7" fill="#000"/>
<circle cx="893.1" cy="962.1" r="4.7" fill="#000"/>
<circle cx="872.8" cy="978.2" r="4.7" fill="#000"/>
<circle cx="883.2" cy="977.0" r="4.7" fill="#000"/>
<circle cx="869.2" cy="987.1" r="4.7" fill="#000"/>
<circle cx="882.4" cy="986.0" r="4.7" fill="#000"/>
<circle cx="893.1" cy="985.4" r="4.7" fill="#000"/>
<circle cx="882.4" cy="991.9" r="4.7" fill="#000"/>
<circle cx="872.8" cy="997.3" r="4.7" fill="#000"/>
<circle cx="893.1" cy="999.1" r="4.7" fill="#000"/>
<circle cx="878.8" cy="1003.9" r="4.7" fill="#000"/>
<circle cx="883.6" cy="1008.6" r="4.7" fill="#000"/>
<circle cx="872.8" cy="1018.8" r="4.7" fill="#000"/>
<circle cx="893.1" cy="1017.6" r="4.7" fill="#000"/>
<circle cx="940.8" cy="868.7" r="4.7" fill="#000"/>
<circle cx="940.8" cy="881.8" r="4.7" fill="#000"/>
<circle cx="925.3" cy="898.2" r="4.7" fill="#000"/>
<circle cx="940.8" cy="902.4" r="4.7" fill="#000"/>
<circle cx="956.3" cy="898.2" r="4.7" fill="#000"/>
<circle cx="932.1" cy="918.5" r="4.7" fill="#000"/>
<circle cx="944.0" cy="918.5" r="4.7" fill="#000"/>
<circle cx="956.3" cy="914.9" r="4.7" fill="#000"/>
<circle cx="925.3" cy="923.9" r="4.7" fill="#000"/>
<circle cx="940.8" cy="928.9" r="4.7" fill="#000"/>
<circle cx="956.3" cy="928.9" r="4.7" fill="#000"/>
<circle cx="925.3" cy="939.4" r="4.7" fill="#000"/>
<circle cx="944.6" cy="945.4" r="4.7" fill="#000"/>
<circle cx="956.3" cy="946.6" r="4.7" fill="#000"/>
<circle cx="925.3" cy="956.1" r="4.7" fill="#000"/>
<circle cx="940.8" cy="956.1" r="4.7" fill="#000"/>
<circle cx="956.3" cy="960.9" r="4.7" fill="#000"/>
<circle cx="925.3" cy="972.8" r="4.7" fill="#000"/>
<circle cx="956.3" cy="984.8" r="4.7" fill="#000"/>
<circle cx="925.3" cy="994.3" r="4.7" fill="#000"/>
<circle cx="940.8" cy="1002.7" r="4.7" fill="#000"/>
<circle cx="956.3" cy="1003.3" r="4.7" fill="#000"/>
<circle cx="925.3" cy="1011.0" r="4.7" fill="#000"/>
<circle cx="987.1" cy="723.3" r="4.7" fill="#000"/>
<circle cx="997.2" cy="908.9" r="4.7" fill="#000"/>
<circle cx="988.2" cy="917.9" r="4.7" fill="#000"/>
<circle cx="997.2" cy="930.4" r="4.7" fill="#000"/>
<circle cx="979.2" cy="962.1" r="4.7" fill="#000"/>
<circle cx="1004.3" cy="965.1" r="4.7" fill="#000"/>
<circle cx="1007.9" cy="968.0" r="4.7" fill="#000"/>
<circle cx="987.6" cy="970.4" r="4.7" fill="#000"/>
<circle cx="997.2" cy="971.0" r="4.7" fill="#000"/>
<circle cx="979.2" cy="982.4" r="4.7" fill="#000"/>
<circle cx="1006.1" cy="978.8" r="4.7" fill="#000"/>
<circle cx="987.6" cy="988.3" r="4.7" fill="#000"/>
<circle cx="997.2" cy="986.5" r="4.7" fill="#000"/>
<circle cx="1006.7" cy="983.0" r="4.7" fill="#000"/>
<circle cx="988.2" cy="993.7" r="4.7" fill="#000"/>
<circle cx="979.2" cy="999.7" r="4.7" fill="#000"/>
<circle cx="1005.5" cy="997.9" r="4.7" fill="#000"/>
<circle cx="997.2" cy="1003.3" r="4.7" fill="#000"/>
<circle cx="1003.1" cy="1001.5" r="4.7" fill="#000"/>
<circle cx="992.4" cy="1017.6" r="4.7" fill="#000"/>
<line x1="831.3" y1="919.7" x2="831.3" y2="942.4" stroke="#e4e4e4" stroke-width="2.5" stroke-linecap="butt"/>
<line x1="820.9" y1="919.7" x2="841.8" y2="919.7" stroke="#e4e4e4" stroke-width="2.5" stroke-linecap="butt"/>
<line x1="820.9" y1="942.4" x2="841.8" y2="942.4" stroke="#e4e4e4" stroke-width="2.5" stroke-linecap="butt"/>
<line x1="883.2" y1="921.5" x2="883.2" y2="969.0" stroke="#e4e4e4" stroke-width="2.5" stroke-linecap="butt"/>
<line x1="872.8" y1="921.5" x2="893.7" y2="921.5" stroke="#e4e4e4" stroke-width="2.5" stroke-linecap="butt"/>
<line x1="872.8" y1="969.0" x2="893.7" y2="969.0" stroke="#e4e4e4" stroke-width="2.5" stroke-linecap="butt"/>
<line x1="940.8" y1="932.8" x2="940.8" y2="950.1" stroke="#000" stroke-width="2.5" stroke-linecap="butt"/>
<line x1="930.3" y1="932.8" x2="951.8" y2="932.8" stroke="#000" stroke-width="2.5" stroke-linecap="butt"/>
<line x1="930.3" y1="950.1" x2="951.8" y2="950.1" stroke="#000" stroke-width="2.5" stroke-linecap="butt"/>
<line x1="992.4" y1="952.5" x2="992.4" y2="977.6" stroke="#d2d2d2" stroke-width="2.5" stroke-linecap="butt"/>
<line x1="982.2" y1="952.5" x2="1003.1" y2="952.5" stroke="#d2d2d2" stroke-width="2.5" stroke-linecap="butt"/>
<line x1="982.2" y1="977.6" x2="1003.1" y2="977.6" stroke="#d2d2d2" stroke-width="2.5" stroke-linecap="butt"/>
<text x="794.5" y="1069.0" font-size="32" font-weight="400" text-anchor="end" fill="#000" >TTX</text>
<text x="794.5" y="1111.4" font-size="32" font-weight="400" text-anchor="end" fill="#000" >TAT</text>
<text x="793.5" y="1147.2" font-size="32" font-weight="400" text-anchor="end" fill="#000" >n</text>
<path d="M816.3,1040.6 L846.5,1070.8 M846.5,1040.6 L816.3,1070.8" stroke="#d92a2c" stroke-width="2.4" fill="none"/>
<path d="M864.2,1055.3 L876.3,1068.8 L901.7,1040.8" stroke="#36a569" stroke-width="3.8" fill="none" stroke-linejoin="miter"/>
<path d="M925.9,1040.6 L956.1,1070.8 M956.1,1040.6 L925.9,1070.8" stroke="#d92a2c" stroke-width="2.4" fill="none"/>
<path d="M973.6,1055.3 L985.7,1068.8 L1011.1,1040.8" stroke="#36a569" stroke-width="3.8" fill="none" stroke-linejoin="miter"/>
<path d="M816.3,1083.0 L846.5,1113.2 M846.5,1083.0 L816.3,1113.2" stroke="#d92a2c" stroke-width="2.4" fill="none"/>
<path d="M868.3,1083.0 L898.5,1113.2 M898.5,1083.0 L868.3,1113.2" stroke="#d92a2c" stroke-width="2.4" fill="none"/>
<path d="M921.8,1098.3 L933.9,1111.8 L959.3,1083.8" stroke="#36a569" stroke-width="3.8" fill="none" stroke-linejoin="miter"/>
<path d="M973.6,1098.3 L985.7,1111.8 L1011.1,1083.8" stroke="#36a569" stroke-width="3.8" fill="none" stroke-linejoin="miter"/>
<text x="829.8" y="1147.2" font-size="32" font-weight="400" text-anchor="middle" fill="#000" >21</text>
<text x="879.7" y="1147.2" font-size="32" font-weight="400" text-anchor="middle" fill="#000" >22</text>
<text x="935.7" y="1147.2" font-size="32" font-weight="400" text-anchor="middle" fill="#000" >23</text>
<text x="991.0" y="1147.2" font-size="32" font-weight="400" text-anchor="middle" fill="#000" >23</text>
<line x1="795.2" y1="1307.8" x2="795.2" y2="1638.0" stroke="#000" stroke-width="2.2" stroke-linecap="butt"/>
<line x1="782.0" y1="1638.0" x2="1057.0" y2="1638.0" stroke="#000" stroke-width="2.4" stroke-linecap="butt"/>
<line x1="781.7" y1="1308.3" x2="795.2" y2="1308.3" stroke="#000" stroke-width="2.2" stroke-linecap="butt"/>
<text x="774.1" y="1316.6" font-size="32" font-weight="400" text-anchor="end" fill="#000" >15</text>
<line x1="781.7" y1="1418.2" x2="795.2" y2="1418.2" stroke="#000" stroke-width="2.2" stroke-linecap="butt"/>
<text x="774.1" y="1426.5" font-size="32" font-weight="400" text-anchor="end" fill="#000" >10</text>
<line x1="781.7" y1="1528.1" x2="795.2" y2="1528.1" stroke="#000" stroke-width="2.2" stroke-linecap="butt"/>
<text x="774.1" y="1536.4" font-size="32" font-weight="400" text-anchor="end" fill="#000" >5</text>
<line x1="781.7" y1="1638.0" x2="795.2" y2="1638.0" stroke="#000" stroke-width="2.2" stroke-linecap="butt"/>
<text x="774.1" y="1646.3" font-size="32" font-weight="400" text-anchor="end" fill="#000" >0</text>
<text transform="translate(722.0,1476.4) rotate(-90)" font-size="32" font-weight="400" text-anchor="middle" fill="#000" >Frequency (Hz)</text>
<rect x="805.6" y="1611.3" width="34.4" height="27.9" fill="#bdbdbd" stroke="#000" stroke-width="2.4"/>
<rect x="854.3" y="1599.4" width="33.9" height="39.8" fill="#3b3b3b" stroke="#000" stroke-width="2.4"/>
<rect x="902.8" y="1514.2" width="33.9" height="125.0" fill="#aaeeed" stroke="#000" stroke-width="2.4"/>
<rect x="955.5" y="1614.1" width="34.1" height="25.1" fill="#ee9a35" stroke="#000" stroke-width="2.4"/>
<rect x="1008.9" y="1528.4" width="33.6" height="110.8" fill="#f2c36f" stroke="#000" stroke-width="2.4"/>
<circle cx="824.3" cy="1554.0" r="3.3" fill="#fff" stroke="#000" stroke-width="2.8"/>
<circle cx="821.0" cy="1560.7" r="3.3" fill="#fff" stroke="#000" stroke-width="2.8"/>
<circle cx="822.6" cy="1577.8" r="3.3" fill="#fff" stroke="#000" stroke-width="2.8"/>
<circle cx="809.0" cy="1617.5" r="3.3" fill="#fff" stroke="#000" stroke-width="2.8"/>
<circle cx="812.5" cy="1614.5" r="3.3" fill="#fff" stroke="#000" stroke-width="2.8"/>
<circle cx="816.9" cy="1613.4" r="3.3" fill="#fff" stroke="#000" stroke-width="2.8"/>
<circle cx="828.3" cy="1609.8" r="3.3" fill="#fff" stroke="#000" stroke-width="2.8"/>
<circle cx="835.0" cy="1616.0" r="3.3" fill="#fff" stroke="#000" stroke-width="2.8"/>
<circle cx="813.9" cy="1620.6" r="3.3" fill="#fff" stroke="#000" stroke-width="2.8"/>
<circle cx="822.9" cy="1620.2" r="3.3" fill="#fff" stroke="#000" stroke-width="2.8"/>
<circle cx="808.5" cy="1625.6" r="3.3" fill="#fff" stroke="#000" stroke-width="2.8"/>
<circle cx="827.9" cy="1624.2" r="3.3" fill="#fff" stroke="#000" stroke-width="2.8"/>
<circle cx="833.7" cy="1623.8" r="3.3" fill="#fff" stroke="#000" stroke-width="2.8"/>
<circle cx="819.3" cy="1630.5" r="3.3" fill="#fff" stroke="#000" stroke-width="2.8"/>
<circle cx="831.0" cy="1630.5" r="3.3" fill="#fff" stroke="#000" stroke-width="2.8"/>
<circle cx="871.3" cy="1486.2" r="4.0" fill="#000"/>
<circle cx="872.5" cy="1523.2" r="4.0" fill="#000"/>
<circle cx="869.5" cy="1526.7" r="4.0" fill="#000"/>
<circle cx="871.3" cy="1531.5" r="4.0" fill="#000"/>
<circle cx="871.3" cy="1579.8" r="4.0" fill="#000"/>
<circle cx="871.3" cy="1582.3" r="4.0" fill="#000"/>
<circle cx="871.0" cy="1600.4" r="4.0" fill="#000"/>
<circle cx="871.9" cy="1604.0" r="4.0" fill="#000"/>
<circle cx="871.9" cy="1611.2" r="4.0" fill="#000"/>
<circle cx="861.1" cy="1619.3" r="4.0" fill="#000"/>
<circle cx="866.5" cy="1622.0" r="4.0" fill="#000"/>
<circle cx="871.9" cy="1617.5" r="4.0" fill="#000"/>
<circle cx="874.6" cy="1623.8" r="4.0" fill="#000"/>
<circle cx="857.5" cy="1631.0" r="4.0" fill="#000"/>
<circle cx="865.6" cy="1627.4" r="4.0" fill="#000"/>
<circle cx="868.3" cy="1633.6" r="4.0" fill="#000"/>
<circle cx="878.2" cy="1628.3" r="4.0" fill="#000"/>
<circle cx="883.6" cy="1624.7" r="4.0" fill="#000"/>
<circle cx="884.5" cy="1631.9" r="4.0" fill="#000"/>
<circle cx="880.9" cy="1632.7" r="4.0" fill="#000"/>
<circle cx="860.0" cy="1624.0" r="4.0" fill="#000"/>
<circle cx="915.0" cy="1364.4" r="4.0" fill="#000"/>
<circle cx="924.5" cy="1371.0" r="4.0" fill="#000"/>
<circle cx="919.9" cy="1442.5" r="4.0" fill="#000"/>
<circle cx="919.9" cy="1458.9" r="4.0" fill="#000"/>
<circle cx="906.1" cy="1472.8" r="4.0" fill="#000"/>
<circle cx="915.0" cy="1477.4" r="4.0" fill="#000"/>
<circle cx="924.5" cy="1476.5" r="4.0" fill="#000"/>
<circle cx="934.0" cy="1492.5" r="4.0" fill="#000"/>
<circle cx="906.1" cy="1497.7" r="4.0" fill="#000"/>
<circle cx="924.5" cy="1501.5" r="4.0" fill="#000"/>
<circle cx="915.0" cy="1513.5" r="4.0" fill="#000"/>
<circle cx="934.0" cy="1513.0" r="4.0" fill="#000"/>
<circle cx="906.1" cy="1523.3" r="4.0" fill="#000"/>
<circle cx="924.5" cy="1522.0" r="4.0" fill="#000"/>
<circle cx="915.0" cy="1531.0" r="4.0" fill="#000"/>
<circle cx="919.9" cy="1550.7" r="4.0" fill="#000"/>
<circle cx="924.5" cy="1586.2" r="4.0" fill="#000"/>
<circle cx="906.1" cy="1594.9" r="4.0" fill="#000"/>
<circle cx="915.0" cy="1594.1" r="4.0" fill="#000"/>
<circle cx="924.5" cy="1601.4" r="4.0" fill="#000"/>
<circle cx="934.0" cy="1598.2" r="4.0" fill="#000"/>
<circle cx="906.1" cy="1608.8" r="4.0" fill="#000"/>
<circle cx="972.6" cy="1586.7" r="4.0" fill="#000"/>
<circle cx="971.0" cy="1596.9" r="4.0" fill="#000"/>
<circle cx="973.5" cy="1600.0" r="4.0" fill="#000"/>
<circle cx="977.3" cy="1603.1" r="4.0" fill="#000"/>
<circle cx="961.6" cy="1606.0" r="4.0" fill="#000"/>
<circle cx="974.1" cy="1608.3" r="4.0" fill="#000"/>
<circle cx="969.0" cy="1609.0" r="4.0" fill="#000"/>
<circle cx="984.5" cy="1611.4" r="4.0" fill="#000"/>
<circle cx="960.0" cy="1617.0" r="4.0" fill="#000"/>
<circle cx="966.0" cy="1619.0" r="4.0" fill="#000"/>
<circle cx="972.0" cy="1618.0" r="4.0" fill="#000"/>
<circle cx="978.0" cy="1617.5" r="4.0" fill="#000"/>
<circle cx="984.0" cy="1618.0" r="4.0" fill="#000"/>
<circle cx="988.0" cy="1617.0" r="4.0" fill="#000"/>
<circle cx="960.5" cy="1620.5" r="4.0" fill="#000"/>
<circle cx="970.0" cy="1621.5" r="4.0" fill="#000"/>
<circle cx="983.0" cy="1621.5" r="4.0" fill="#000"/>
<circle cx="975.0" cy="1621.0" r="4.0" fill="#000"/>
<circle cx="987.0" cy="1621.0" r="4.0" fill="#000"/>
<circle cx="964.0" cy="1622.0" r="4.0" fill="#000"/>
<circle cx="979.0" cy="1623.0" r="4.0" fill="#000"/>
<circle cx="970.5" cy="1630.2" r="4.0" fill="#000"/>
<circle cx="1025.2" cy="1388.0" r="4.0" fill="#000"/>
<circle cx="1025.2" cy="1412.2" r="4.0" fill="#000"/>
<circle cx="1025.2" cy="1432.7" r="4.0" fill="#000"/>
<circle cx="1030.1" cy="1446.6" r="4.0" fill="#000"/>
<circle cx="1020.8" cy="1458.9" r="4.0" fill="#000"/>
<circle cx="1025.2" cy="1476.6" r="4.0" fill="#000"/>
<circle cx="1015.9" cy="1504.8" r="4.0" fill="#000"/>
<circle cx="1025.2" cy="1500.4" r="4.0" fill="#000"/>
<circle cx="1035.0" cy="1499.4" r="4.0" fill="#000"/>
<circle cx="1015.9" cy="1534.3" r="4.0" fill="#000"/>
<circle cx="1025.2" cy="1539.2" r="4.0" fill="#000"/>
<circle cx="1035.0" cy="1535.4" r="4.0" fill="#000"/>
<circle cx="1020.8" cy="1557.7" r="4.0" fill="#000"/>
<circle cx="1030.1" cy="1560.0" r="4.0" fill="#000"/>
<circle cx="1020.8" cy="1572.0" r="4.0" fill="#000"/>
<circle cx="1030.1" cy="1590.8" r="4.0" fill="#000"/>
<circle cx="1020.8" cy="1597.7" r="4.0" fill="#000"/>
<circle cx="1020.8" cy="1613.4" r="4.0" fill="#000"/>
<circle cx="1030.1" cy="1621.1" r="4.0" fill="#000"/>
<circle cx="1040.0" cy="1618.6" r="4.0" fill="#000"/>
<circle cx="1011.3" cy="1624.9" r="4.0" fill="#000"/>
<line x1="822.2" y1="1605.8" x2="822.2" y2="1616.6" stroke="#e4e4e4" stroke-width="2.2" stroke-linecap="butt"/>
<line x1="812.1" y1="1605.8" x2="832.4" y2="1605.8" stroke="#e4e4e4" stroke-width="2.2" stroke-linecap="butt"/>
<line x1="812.1" y1="1616.6" x2="832.4" y2="1616.6" stroke="#e4e4e4" stroke-width="2.2" stroke-linecap="butt"/>
<line x1="871.2" y1="1589.3" x2="871.2" y2="1608.4" stroke="#000" stroke-width="2.5" stroke-linecap="butt"/>
<line x1="861.1" y1="1589.3" x2="881.3" y2="1589.3" stroke="#000" stroke-width="2.5" stroke-linecap="butt"/>
<line x1="861.1" y1="1608.4" x2="881.3" y2="1608.4" stroke="#000" stroke-width="2.5" stroke-linecap="butt"/>
<line x1="919.9" y1="1498.2" x2="919.9" y2="1528.2" stroke="#000" stroke-width="2.5" stroke-linecap="butt"/>
<line x1="910.6" y1="1498.2" x2="929.4" y2="1498.2" stroke="#000" stroke-width="2.5" stroke-linecap="butt"/>
<line x1="910.6" y1="1528.2" x2="929.4" y2="1528.2" stroke="#000" stroke-width="2.5" stroke-linecap="butt"/>
<line x1="972.6" y1="1613.8" x2="972.6" y2="1616.6" stroke="#f4f4f4" stroke-width="2.2" stroke-linecap="butt"/>
<line x1="962.4" y1="1613.8" x2="982.5" y2="1613.8" stroke="#f4f4f4" stroke-width="2.2" stroke-linecap="butt"/>
<line x1="962.4" y1="1616.6" x2="982.5" y2="1616.6" stroke="#f4f4f4" stroke-width="2.2" stroke-linecap="butt"/>
<line x1="1025.2" y1="1512.2" x2="1025.2" y2="1543.6" stroke="#000" stroke-width="2.5" stroke-linecap="butt"/>
<line x1="1015.4" y1="1512.2" x2="1035.5" y2="1512.2" stroke="#000" stroke-width="2.5" stroke-linecap="butt"/>
<line x1="1015.4" y1="1543.6" x2="1035.5" y2="1543.6" stroke="#000" stroke-width="2.5" stroke-linecap="butt"/>
<line x1="824.5" y1="1274.1" x2="1026.6" y2="1274.1" stroke="#000" stroke-width="2.4" stroke-linecap="butt"/>
<line x1="873.1" y1="1298.4" x2="1025.5" y2="1298.4" stroke="#000" stroke-width="2.4" stroke-linecap="butt"/>
<line x1="872.2" y1="1325.0" x2="921.3" y2="1325.0" stroke="#000" stroke-width="2.4" stroke-linecap="butt"/>
<line x1="824.5" y1="1350.6" x2="919.9" y2="1350.6" stroke="#000" stroke-width="2.4" stroke-linecap="butt"/>
<line x1="923.3" y1="1350.6" x2="973.3" y2="1350.6" stroke="#000" stroke-width="2.4" stroke-linecap="butt"/>
<line x1="976.7" y1="1350.6" x2="1026.6" y2="1350.6" stroke="#000" stroke-width="2.4" stroke-linecap="butt"/>
<text x="923.0" y="1277.3" font-size="31" font-weight="700" text-anchor="middle" fill="#000" >***</text>
<text x="948.2" y="1301.7" font-size="31" font-weight="700" text-anchor="middle" fill="#000" >**</text>
<text x="896.0" y="1327.2" font-size="31" font-weight="700" text-anchor="middle" fill="#000" >****</text>
<text x="870.0" y="1351.7" font-size="31" font-weight="700" text-anchor="middle" fill="#000" >****</text>
<text x="947.0" y="1351.7" font-size="31" font-weight="700" text-anchor="middle" fill="#000" >****</text>
<text x="1000.7" y="1352.7" font-size="31" font-weight="700" text-anchor="middle" fill="#000" >***</text>
<text x="794.5" y="1678.5" font-size="32" font-weight="400" text-anchor="end" fill="#000" >TTX</text>
<text x="794.5" y="1720.9" font-size="32" font-weight="400" text-anchor="end" fill="#000" >Amil</text>
<text x="794.5" y="1762.3" font-size="32" font-weight="400" text-anchor="end" fill="#000" >TAT</text>
<text x="793.0" y="1800.8" font-size="32" font-weight="400" text-anchor="end" fill="#000" >n</text>
<path d="M809.2,1649.8 L839.0,1679.6 M839.0,1649.8 L809.2,1679.6" stroke="#d92a2c" stroke-width="2.2" fill="none"/>
<path d="M851.3,1665.1 L863.4,1678.6 L888.8,1650.6" stroke="#28995a" stroke-width="2.3" fill="none" stroke-linejoin="miter"/>
<path d="M901.7,1665.1 L913.8,1678.6 L939.2,1650.6" stroke="#28995a" stroke-width="2.3" fill="none" stroke-linejoin="miter"/>
<path d="M952.4,1665.1 L964.5,1678.6 L989.9,1650.6" stroke="#28995a" stroke-width="2.3" fill="none" stroke-linejoin="miter"/>
<path d="M1003.1,1665.1 L1015.2,1678.6 L1040.6,1650.6" stroke="#28995a" stroke-width="2.3" fill="none" stroke-linejoin="miter"/>
<path d="M809.2,1692.2 L839.0,1722.0 M839.0,1692.2 L809.2,1722.0" stroke="#d92a2c" stroke-width="2.2" fill="none"/>
<path d="M855.6,1692.2 L885.4,1722.0 M885.4,1692.2 L855.6,1722.0" stroke="#d92a2c" stroke-width="2.2" fill="none"/>
<path d="M901.7,1707.5 L913.8,1721.0 L939.2,1693.0" stroke="#28995a" stroke-width="2.3" fill="none" stroke-linejoin="miter"/>
<path d="M956.7,1692.2 L986.5,1722.0 M986.5,1692.2 L956.7,1722.0" stroke="#d92a2c" stroke-width="2.2" fill="none"/>
<path d="M1003.1,1707.5 L1015.2,1721.0 L1040.6,1693.0" stroke="#28995a" stroke-width="2.3" fill="none" stroke-linejoin="miter"/>
<path d="M809.2,1735.2 L839.0,1765.0 M839.0,1735.2 L809.2,1765.0" stroke="#d92a2c" stroke-width="2.2" fill="none"/>
<path d="M855.6,1735.2 L885.4,1765.0 M885.4,1735.2 L855.6,1765.0" stroke="#d92a2c" stroke-width="2.2" fill="none"/>
<path d="M906.0,1735.2 L935.8,1765.0 M935.8,1735.2 L906.0,1765.0" stroke="#d92a2c" stroke-width="2.2" fill="none"/>
<path d="M952.4,1750.5 L964.5,1764.0 L989.9,1736.0" stroke="#28995a" stroke-width="2.3" fill="none" stroke-linejoin="miter"/>
<path d="M1003.1,1750.5 L1015.2,1764.0 L1040.6,1736.0" stroke="#28995a" stroke-width="2.3" fill="none" stroke-linejoin="miter"/>
<text x="824.1" y="1800.8" font-size="32" font-weight="400" text-anchor="middle" fill="#000" >19</text>
<text x="870.5" y="1800.8" font-size="32" font-weight="400" text-anchor="middle" fill="#000" >21</text>
<text x="920.9" y="1800.8" font-size="32" font-weight="400" text-anchor="middle" fill="#000" >23</text>
<text x="971.6" y="1800.8" font-size="32" font-weight="400" text-anchor="middle" fill="#000" >21</text>
<text x="1022.3" y="1800.8" font-size="32" font-weight="400" text-anchor="middle" fill="#000" >21</text>
</svg>
</body></html>
